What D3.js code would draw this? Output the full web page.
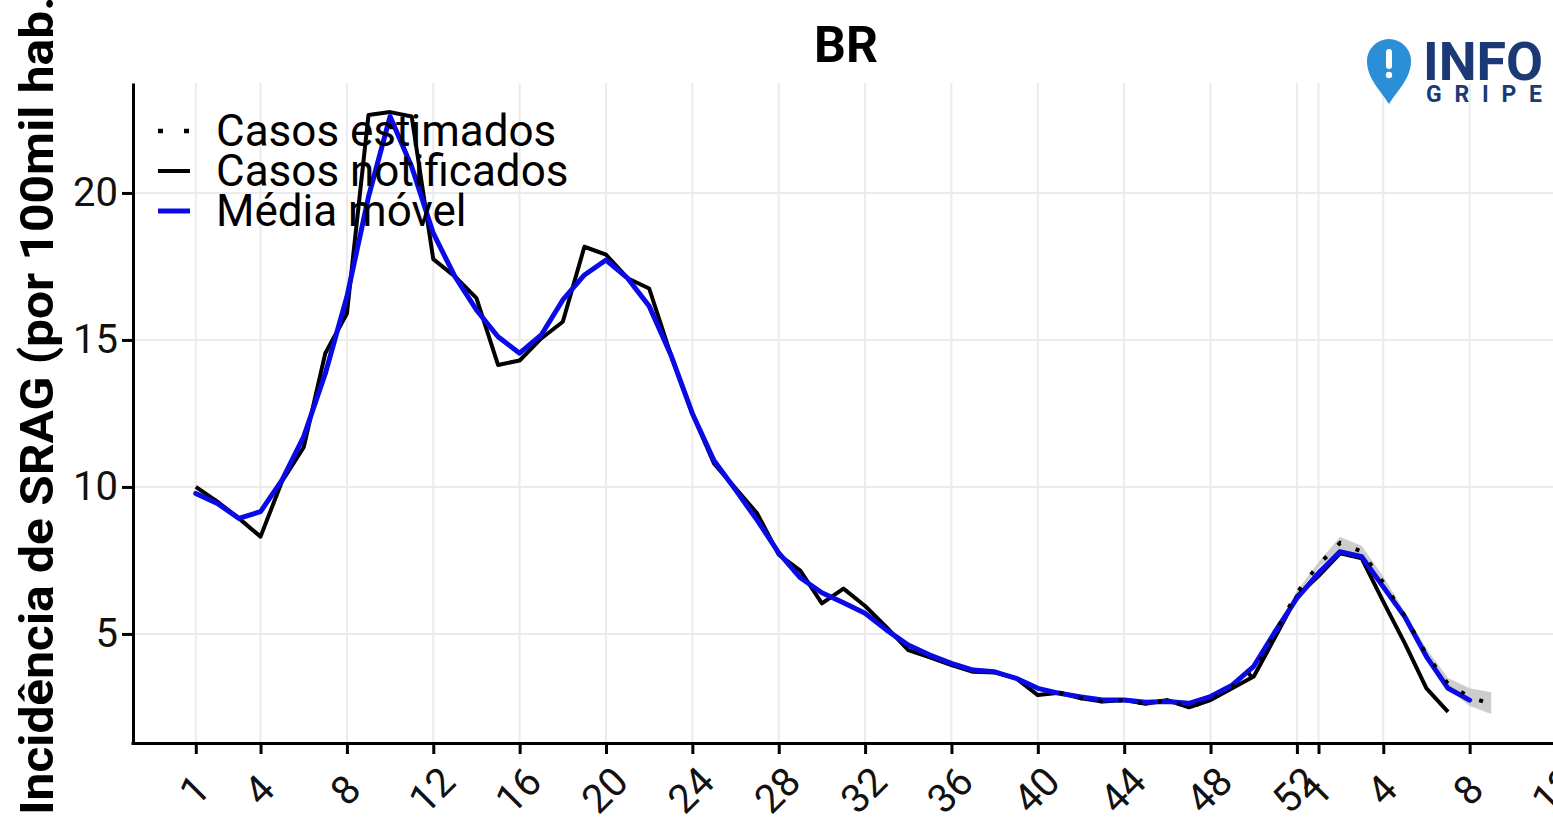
<!DOCTYPE html>
<html>
<head>
<meta charset="utf-8">
<script src="https://cdn.jsdelivr.net/npm/d3@7"></script>
<style>
  html, body { margin: 0; padding: 0; background: #ffffff; overflow: hidden; }
  svg { display: block; font-family: Roboto, "Noto Sans", sans-serif; }
</style>
</head>
<body>
<svg id="chart" width="1553" height="822"></svg>
<script>
// ---- data (index = week position, 0 = week 1 of first year) ----
const xTickIndex  = [0, 3, 7, 11, 15, 19, 23, 27, 31, 35, 39, 43, 47, 51, 52, 55, 59, 63];
const xTickLabels = ["1","4","8","12","16","20","24","28","32","36","40","44","48","52","1","4","8","12"];
const yTicks = [5, 10, 15, 20];

// Casos notificados (weeks index 0..58)
const notified = [10.0, 9.5, 8.93, 8.31, 10.2, 11.35, 14.55, 15.9, 22.65, 22.75,
  22.6, 17.75, 17.16, 16.42, 14.15, 14.3, 15.05, 15.62, 18.17, 17.9,
  17.1, 16.75, 14.5, 12.5, 10.8, 9.95, 9.1, 7.7, 7.15, 6.04,
  6.54, 5.95, 5.22, 4.45, 4.2, 3.94, 3.71, 3.69, 3.49, 2.92,
  3.0, 2.81, 2.7, 2.75, 2.62, 2.75, 2.5, 2.75, 3.15, 3.55,
  4.9, 6.28, 6.97, 7.74, 7.57, 6.1, 4.68, 3.15, 2.35];

// Média móvel (weeks index 0..59)
const movingAvg = [9.78, 9.44, 8.93, 9.16, 10.24, 11.71, 13.86, 16.47, 19.87, 22.6,
  20.89, 18.63, 17.16, 16.02, 15.11, 14.55, 15.17, 16.36, 17.21, 17.72,
  17.1, 16.15, 14.5, 12.5, 10.9, 9.9, 8.87, 7.76, 6.91, 6.4,
  6.06, 5.7, 5.13, 4.62, 4.28, 4.0, 3.77, 3.71, 3.49, 3.15,
  2.98, 2.86, 2.75, 2.75, 2.68, 2.7, 2.64, 2.87, 3.26, 3.9,
  5.09, 6.22, 7.07, 7.8, 7.63, 6.6, 5.58, 4.23, 3.15, 2.75];

// Casos estimados (weeks index 40..60)
const estimatedStart = 40;
const estimated = [3.0, 2.81, 2.7, 2.75, 2.62, 2.75, 2.5, 2.75, 3.2, 3.7,
  5.05, 6.4, 7.35, 8.1, 7.8, 6.75, 5.6, 4.3, 3.3, 2.85, 2.62];

// Intervalo dos casos estimados (weeks index 50..60)
const ribbonStart = 50;
const ribbonLow  = [5.0, 6.35, 7.25, 7.9, 7.65, 6.6, 5.45, 4.15, 3.15, 2.55, 2.28];
const ribbonHigh = [5.1, 6.45, 7.45, 8.3, 8.0, 6.95, 5.75, 4.5, 3.5, 3.15, 3.02];

const legendLabels = ["Casos estimados", "Casos notificados", "Média móvel"];
const titleText = "BR";
const yLabel = "Incidência de SRAG (por 100mil hab.)";

// ---- layout ----
const svg = d3.select("#chart");
const panel = {left: 131, right: 1556, top: 83, bottom: 743};

const x = d3.scaleLinear().domain([-3, 63]).range([panel.left, panel.right]);
const y = d3.scaleLinear().domain([1.29, 23.74]).range([panel.bottom, panel.top]);

svg.append("rect").attr("width", 1553).attr("height", 822).attr("fill", "#ffffff");

// grid
const grid = svg.append("g").attr("stroke", "#ebebeb").attr("stroke-width", 2);
grid.selectAll("line.v").data(xTickIndex).join("line")
  .attr("x1", d => x(d)).attr("x2", d => x(d))
  .attr("y1", panel.top).attr("y2", panel.bottom);
grid.selectAll("line.h").data(yTicks).join("line")
  .attr("x1", panel.left).attr("x2", panel.right)
  .attr("y1", d => y(d)).attr("y2", d => y(d));

// ribbon
const ribbonData = ribbonLow.map((lo, k) => ({i: ribbonStart + k, lo, hi: ribbonHigh[k]}));
svg.append("path").datum(ribbonData)
  .attr("fill", "#c4c4c4").attr("fill-opacity", 0.85)
  .attr("d", d3.area().x(d => x(d.i)).y0(d => y(d.lo)).y1(d => y(d.hi)));

const line = d3.line().x(d => x(d.i)).y(d => y(d.v));

// notified
svg.append("path").datum(notified.map((v, i) => ({i, v})))
  .attr("fill", "none").attr("stroke", "#000").attr("stroke-width", 4)
  .attr("stroke-linejoin", "round").attr("d", line);

// moving average
svg.append("path").datum(movingAvg.map((v, i) => ({i, v})))
  .attr("fill", "none").attr("stroke", "#0a0ae6").attr("stroke-width", 5)
  .attr("stroke-linejoin", "round").attr("stroke-linecap", "round").attr("d", line);

// estimated (dotted)
svg.append("path").datum(estimated.map((v, k) => ({i: estimatedStart + k, v})))
  .attr("fill", "none").attr("stroke", "#000").attr("stroke-width", 4)
  .attr("stroke-dasharray", "4,16").attr("d", line);

// axes
const xAxis = d3.axisBottom(x).tickValues(xTickIndex)
  .tickFormat((d, k) => xTickLabels[k]).tickSize(11).tickSizeOuter(0);
const gx = svg.append("g").attr("transform", `translate(0,${panel.bottom})`).call(xAxis);
gx.select(".domain").attr("stroke", "#000").attr("stroke-width", 3);
gx.selectAll(".tick line").attr("stroke", "#000").attr("stroke-width", 3);
gx.selectAll(".tick text")
  .attr("fill", "#111").attr("font-size", 40).attr("font-family", "Roboto")
  .attr("text-anchor", "middle").attr("dy", "0.35em")
  .attr("y", 0)
  .attr("transform", "translate(-2,47) rotate(-45)");

const yAxis = d3.axisLeft(y).tickValues(yTicks).tickSize(11).tickSizeOuter(0);
const gy = svg.append("g").attr("transform", `translate(${panel.left + 2},0)`).call(yAxis);
gy.select(".domain").attr("stroke", "#000").attr("stroke-width", 3);
gy.selectAll(".tick line").attr("stroke", "#000").attr("stroke-width", 3);
gy.selectAll(".tick text")
  .attr("fill", "#111").attr("font-size", 40).attr("font-family", "Roboto")
  .attr("x", -15);

// y label
svg.append("text")
  .attr("transform", "translate(53,815) rotate(-90)")
  .attr("text-anchor", "start")
  .attr("font-size", 47).attr("font-weight", "bold").attr("fill", "#000")
  .attr("textLength", 836).attr("lengthAdjust", "spacingAndGlyphs")
  .text(yLabel);

// title
svg.append("text").attr("x", 846).attr("y", 62)
  .attr("text-anchor", "middle").attr("font-size", 50).attr("font-weight", "bold")
  .attr("fill", "#000").text(titleText);

// legend
const legend = svg.append("g");
const legendY = [131, 171, 211];
const keyStyles = [
  {stroke: "#000", w: 4.5, dash: "5,21"},
  {stroke: "#000", w: 4, dash: null},
  {stroke: "#0a0ae6", w: 5, dash: null}
];
legendLabels.forEach((lab, k) => {
  const ln = legend.append("line")
    .attr("x1", 158).attr("x2", 190)
    .attr("y1", legendY[k]).attr("y2", legendY[k])
    .attr("stroke", keyStyles[k].stroke).attr("stroke-width", keyStyles[k].w);
  if (keyStyles[k].dash) ln.attr("stroke-dasharray", keyStyles[k].dash);
  legend.append("text").attr("x", 216).attr("y", legendY[k] + 15)
    .attr("font-size", 44).attr("fill", "#000").text(lab);
});

// logo
const logo = svg.append("g");
logo.append("path")
  .attr("d", "M1389,104 C1380,90 1367,78 1367,61 A22,22 0 1 1 1411,61 C1411,78 1398,90 1389,104 Z")
  .attr("fill", "#2a8fd6");
logo.append("rect").attr("x", 1386).attr("y", 49).attr("width", 6).attr("height", 20)
  .attr("rx", 3).attr("fill", "#ffffff");
logo.append("circle").attr("cx", 1389).attr("cy", 75).attr("r", 3.2).attr("fill", "#ffffff");
logo.append("text").attr("x", 1423).attr("y", 80)
  .attr("font-size", 54).attr("font-weight", "bold").attr("fill", "#1b3a75")
  .attr("textLength", 120).attr("lengthAdjust", "spacingAndGlyphs").text("INFO");
logo.append("text").attr("x", 1426).attr("y", 102)
  .attr("font-size", 23).attr("font-weight", "bold").attr("fill", "#1b3a75")
  .attr("textLength", 116).attr("lengthAdjust", "spacing").text("GRIPE");
</script>
</body>
</html>
